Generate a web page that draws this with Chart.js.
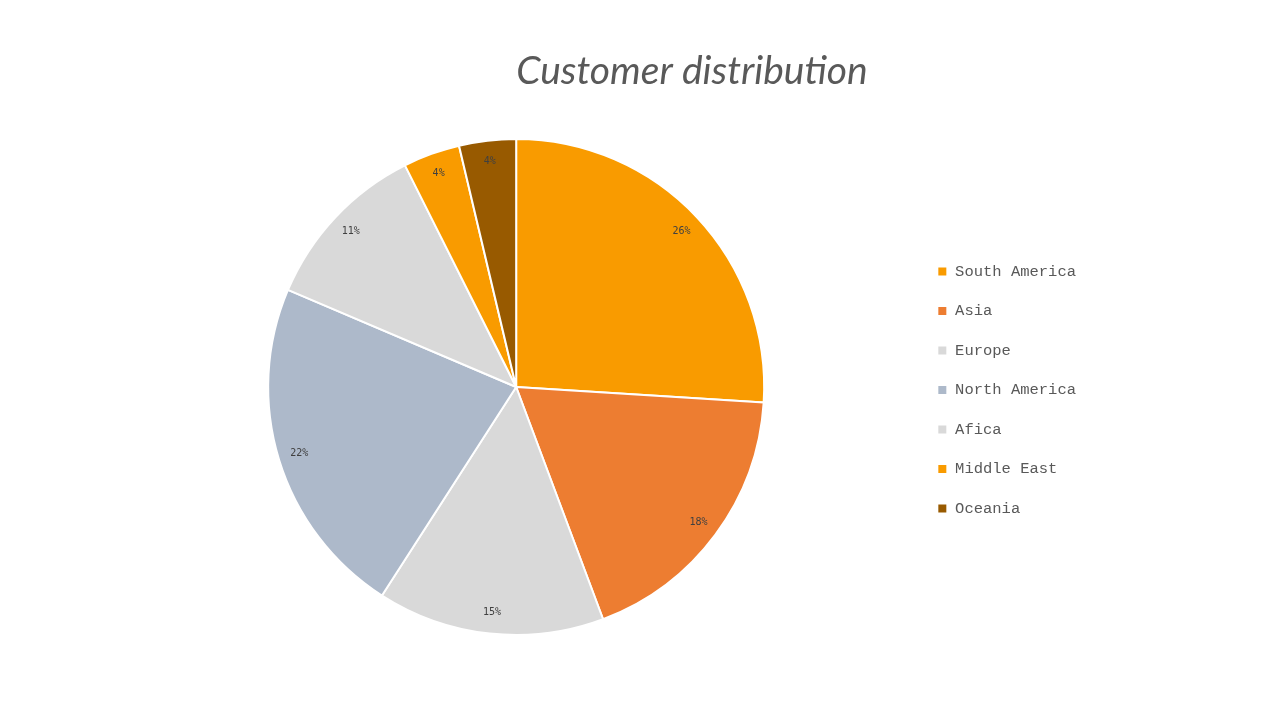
<!DOCTYPE html>
<html>
<head>
<meta charset="utf-8">
<script src="https://cdn.jsdelivr.net/npm/chart.js@4.4.0/dist/chart.umd.min.js"></script>
<style>
html,body{margin:0;padding:0;background:#fff;}
#wrap{width:1280px;height:720px;position:relative;}
</style>
</head>
<body>
<div id="wrap"><canvas id="c" width="1280" height="720"></canvas></div>
<script>
const titleText = "Customer distribution";
const categories = ["South America", "Asia", "Europe", "North America", "Afica", "Middle East", "Oceania"];
const values = [26.0, 18.3, 14.8, 22.3, 11.2, 3.7, 3.7];
const sliceColors = ["#F99B00", "#ED7D31", "#D9D9D9", "#ADB9CA", "#D9D9D9", "#F99B00", "#985A00"];

const titlePlugin = {
  id: 'customTitle',
  afterDraw(chart) {
    const ctx = chart.ctx;
    ctx.save();
    ctx.font = "italic 39px Lato";
    ctx.fillStyle = "#595959";
    ctx.textAlign = "center";
    ctx.textBaseline = "middle";
    ctx.fillText(titleText, 692, 71);
    ctx.restore();
  }
};

const legendShift = {
  id: 'legendShift',
  afterLayout(chart) {
    if (chart.legend) { chart.legend.top += 3; chart.legend.bottom += 3; chart.legend.left -= 1; chart.legend.right -= 1; }
  }
};

const labelPlugin = {
  id: 'sliceLabels',
  afterDatasetsDraw(chart) {
    const ctx = chart.ctx;
    const meta = chart.getDatasetMeta(0);
    const data = chart.data.datasets[0].data;
    const total = data.reduce((a, b) => a + b, 0);
    ctx.save();
    ctx.font = "10px 'DejaVu Sans Mono'";
    ctx.fillStyle = "#404040";
    ctx.textAlign = "center";
    ctx.textBaseline = "middle";
    meta.data.forEach((arc, i) => {
      const p = arc.getProps(['x', 'y', 'startAngle', 'endAngle', 'outerRadius'], true);
      const a = (p.startAngle + p.endAngle) / 2;
      const r = p.outerRadius * 0.915;
      const pct = Math.round(data[i] / total * 100) + "%";
      ctx.fillText(pct, p.x + Math.cos(a) * r, p.y + Math.sin(a) * r);
    });
    ctx.restore();
  }
};

new Chart(document.getElementById('c'), {
  type: 'pie',
  data: {
    labels: categories,
    datasets: [{
      data: values,
      backgroundColor: sliceColors,
      borderColor: "#FFFFFF",
      borderWidth: 2
    }]
  },
  options: {
    responsive: false,
    animation: false,
    devicePixelRatio: 1,
    layout: { padding: { top: 138, bottom: 84, left: 118, right: 193 } },
    plugins: {
      title: { display: false },
      tooltip: { enabled: false },
      legend: {
        display: true,
        position: 'right',
        align: 'center',
        labels: {
          boxWidth: 10,
          boxHeight: 10,
          padding: 24,
          color: "#595959",
          font: { family: "'Liberation Mono'", size: 15.5 }
        }
      }
    }
  },
  plugins: [legendShift, titlePlugin, labelPlugin]
});
</script>
</body>
</html>
